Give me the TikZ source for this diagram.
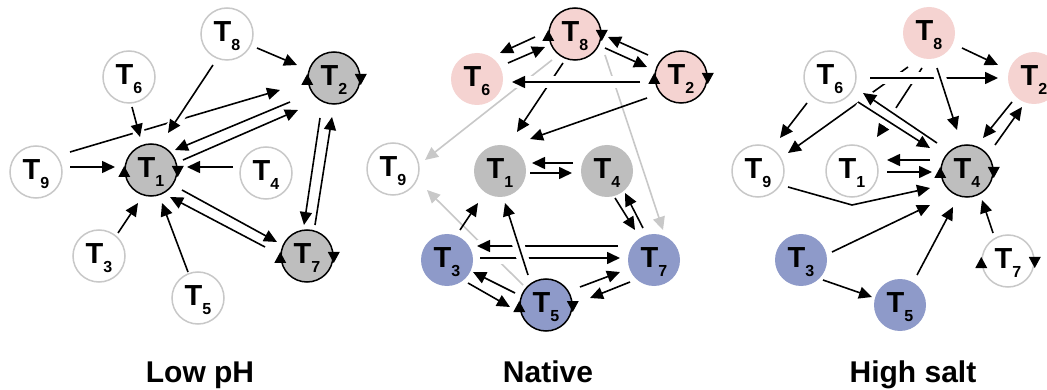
\documentclass[tikz,border=0pt]{standalone}
\usepackage{fontspec}
\setmainfont{Liberation Sans}
\usetikzlibrary{arrows.meta,calc}
\pgfdeclarelayer{bg}
\pgfsetlayers{bg,main}
\definecolor{lgray}{HTML}{C8C8C8}
\definecolor{ngray}{HTML}{BEBEBE}
\definecolor{npink}{HTML}{F5D3D1}
\definecolor{nblue}{HTML}{8E9AC9}
\newcommand\lab[1]{T\raisebox{-9pt}[0pt][5pt]{\fontsize{16}{16}\selectfont #1}}
\newcommand\ed[5][]{\draw[ed,#1] ($(#2)+(#3)$) -- ($(#4)+(#5)$);}
\newcommand\lm[1]{%
  \fill ($(#1.west)+(-6,7)$) -- ($(#1.west)+(6,7)$) -- ($(#1.west)+(0,-4)$) -- cycle;
  \fill ($(#1.east)+(-6,-4)$) -- ($(#1.east)+(6,-4)$) -- ($(#1.east)+(0,7)$) -- cycle;}
\tikzset{
  nd/.style={circle, minimum size=52pt, inner sep=0pt, line width=1.5pt,
    font=\fontsize{29}{29}\selectfont\bfseries},
  wh/.style={nd, draw=lgray, fill=white},
  gy/.style={nd, fill=ngray}, gyb/.style={gy, draw=black},
  pk/.style={nd, fill=npink}, pkb/.style={pk, draw=black},
  bl/.style={nd, fill=nblue}, blb/.style={bl, draw=black},
  ed/.style={line width=1.6pt, -{Triangle[length=13pt,width=12pt]}},
  gr/.style={draw=lgray},
  halo/.style={draw=white, line width=12pt, arrows=-},
  ttl/.style={anchor=base, font=\fontsize{30}{30}\selectfont\bfseries}
}
% over-groups (drawn twice: white halo, then line)
\newcommand\overL[1]{%
  \ed[#1]{L6}{3,30}{L1}{-11,-33}
  \ed[#1]{L8}{-14,31}{L1}{17,-37}}
\newcommand\overMa[1]{%
  \ed[#1]{M7}{-36,-14}{M3}{30,-14}
  \ed[#1]{M3}{33,-2}{M7}{-34,-2}}
\newcommand\overMb[1]{%
  \ed[#1]{M2}{-41,5}{M6}{35,3}
  \ed[#1]{M5}{-18,-30}{M1}{5,32}}
\newcommand\overRa[1]{%
  \ed[#1]{R6}{40,1}{R2}{-36,0}}
\newcommand\overRb[1]{%
  \ed[#1]{R8}{8,35}{R4}{-10,-41}
  \ed[#1]{R6}{28,25}{R4}{-37,-23}
  \ed[#1]{R4}{-30,-28}{R6}{33,16}}
\begin{document}
\begin{tikzpicture}[x=1pt,y=-1pt]
\useasboundingbox (0,0) rectangle (1047,390);
% ---------- nodes: Low pH
\node[wh]  (L8) at (227,34)  {\lab8};
\node[wh]  (L6) at (129,77)  {\lab6};
\node[gyb] (L2) at (334,78)  {\lab2};
\node[wh]  (L9) at (36,172)  {\lab9};
\node[gyb] (L1) at (151,170) {\lab1};
\node[wh]  (L4) at (266,173) {\lab4};
\node[wh]  (L3) at (99,256)  {\lab3};
\node[wh]  (L5) at (198,298) {\lab5};
\node[gyb] (L7) at (307,256) {\lab7};
% ---------- nodes: Native
\node[pkb] (M8) at (575,34)  {\lab8};
\node[pk]  (M6) at (477,79)  {\lab6};
\node[pkb] (M2) at (681,77)  {\lab2};
\node[wh]  (M9) at (393,169) {\lab9};
\node[gy]  (M1) at (500,171) {\lab1};
\node[gy]  (M4) at (607,171) {\lab4};
\node[bl]  (M3) at (447,260) {\lab3};
\node[bl]  (M7) at (654,260) {\lab7};
\node[blb] (M5) at (546,305) {\lab5};
% ---------- nodes: High salt
\node[pk]  (R8) at (929,33)  {\lab8};
\node[wh]  (R6) at (830,77)  {\lab6};
\node[pk]  (R2) at (1034,78) {\lab2};
\node[wh]  (R9) at (758,171) {\lab9};
\node[wh]  (R1) at (852,171) {\lab1};
\node[gyb] (R4) at (967,171) {\lab4};
\node[bl]  (R3) at (801,260) {\lab3};
\node[bl]  (R5) at (900,305) {\lab5};
\node[wh]  (R7) at (1008,261) {\lab7};
% self-loop marks
\lm{L1}\lm{L2}\lm{L7}\lm{M8}\lm{M2}\lm{M5}\lm{R4}\lm{R7}
% titles
\node[ttl] (t1) at (200,382) {Low pH};
\node[ttl] (t2) at (548,382) {Native};
\node[ttl] (t3) at (913,382) {High salt};
\begin{pgfonlayer}{bg}
\fill[white] (0,0) rectangle (1047,390);
% ---------- edges: Low pH
\ed{L8}{30,14}{L2}{-37,-13}
\ed{L9}{34,-20}{L2}{-54,12}
\ed{L9}{34,-5}{L1}{-36,-3}
\ed{L2}{-44,24}{L1}{24,-20}
\ed{L1}{32,-10}{L2}{-36,32}
\ed{L4}{-33,-6}{L1}{36,-3}
\ed{L3}{19,-23}{L1}{-13,33}
\ed{L5}{-10,-26}{L1}{11,33}
\ed{L1}{31,20}{L7}{-30,-14}
\ed{L7}{-42,-9}{L1}{19,27}
\ed{L2}{-14,40}{L7}{-3,-31}
\ed{L7}{8,-31}{L2}{-2,39}
\overL{halo}\overL{}
% ---------- edges: Native
\ed[gr]{M8}{-23,26}{M9}{32,-9}
\ed[gr]{M8}{30,21}{M7}{9,-30}
\ed[gr]{M5}{-23,-20}{M9}{34,21}
\ed{M8}{-40,3}{M6}{23,-26}
\ed{M6}{31,-16}{M8}{-30,13}
\ed{M2}{-33,-22}{M8}{33,3}
\ed{M8}{30,14}{M2}{-34,-10}
\ed{M8}{-12,29}{M1}{17,-39}
\ed{M2}{-34,21}{M1}{30,-32}
\ed{M4}{-34,-8}{M1}{32,-8}
\ed{M1}{30,2}{M4}{-35,2}
\ed{M4}{8,27}{M7}{-19,-30}
\ed{M7}{-11,-32}{M4}{18,22}
\ed{M3}{13,-30}{M1}{-22,32}
\ed{M3}{21,23}{M5}{-36,2}
\ed{M5}{-31,-12}{M3}{26,12}
\ed{M5}{34,-18}{M7}{-34,12}
\ed{M7}{-24,22}{M5}{44,-7}
\overMa{halo}\overMa{}
\overMb{halo}\overMb{}
% ---------- edges: High salt
\ed{R8}{33,15}{R2}{-36,-13}
\ed{R6}{-23,26}{R9}{22,-33}
\ed{R2}{-22,24}{R4}{16,-33}
\ed{R4}{28,-26}{R2}{-12,29}
\ed{R4}{-37,-11}{R1}{35,-11}
\ed{R1}{35,1}{R4}{-35,1}
\draw[ed] ($(R9)+(30,16)$) -- ($(R1)+(0,34)$) -- ($(R4)+(-37,17)$);
\ed{R3}{31,-8}{R4}{-37,34}
\ed{R5}{17,-30}{R4}{-14,36}
\ed{R7}{-15,-28}{R4}{15,29}
\ed{R3}{22,20}{R5}{-28,-8}
\ed{R8}{-21,34}{R9}{30,-18}
\ed{R8}{-7,35}{R1}{25,-34}
\overRa{halo}\overRa{}
\overRb{halo}\overRb{}
\end{pgfonlayer}
\end{tikzpicture}
\end{document}
